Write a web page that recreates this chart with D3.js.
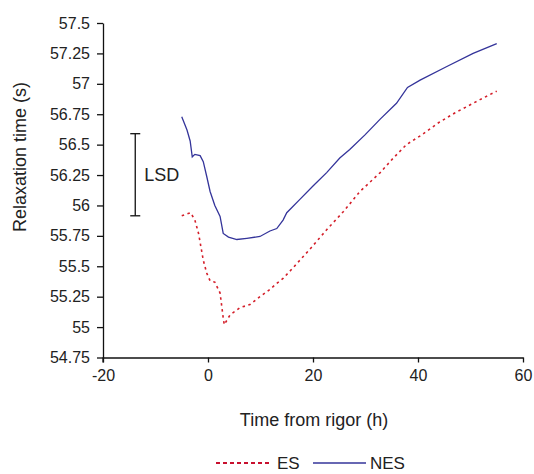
<!DOCTYPE html>
<html><head><meta charset="utf-8">
<script src="https://cdn.jsdelivr.net/npm/d3@7"></script>
<style>
html,body{margin:0;padding:0;background:#fff;}
svg text{font-family:Arial,"Liberation Sans",sans-serif;fill:#222;}
</style></head>
<body>
<svg id="c" width="534" height="474"></svg>
<script>
const esTime = [-5, -3.3, -2.5, -1.8, -0.9, -0.25, 0.4, 1.3, 2.3, 2.9, 3.1, 4.2, 6.1, 8, 9.9, 11.8, 13.1, 14.3, 16.25, 19.4, 22.6, 25.8, 28.95, 32.8, 35.3, 37.8, 40.7, 43.9, 47, 51.8, 55];
const esValues = [55.915, 55.94, 55.88, 55.77, 55.55, 55.445, 55.38, 55.37, 55.28, 55.075, 55.02, 55.1, 55.16, 55.185, 55.25, 55.31, 55.36, 55.40, 55.49, 55.64, 55.80, 55.95, 56.115, 56.27, 56.39, 56.5, 56.58, 56.68, 56.76, 56.87, 56.94];
const nesTime = [-5, -4, -3.4, -3, -2.5, -1.5, -0.9, -0.25, 0.4, 1.3, 2.3, 2.9, 3.9, 5.5, 7.4, 9.9, 11.8, 13.1, 14.3, 15, 17.5, 20, 22.6, 25.1, 27, 29.9, 32.8, 35.9, 38, 40.4, 45.4, 50.5, 55];
const nesValues = [56.73, 56.62, 56.53, 56.40, 56.42, 56.41, 56.36, 56.24, 56.115, 56.0, 55.91, 55.77, 55.74, 55.72, 55.73, 55.745, 55.79, 55.81, 55.88, 55.94, 56.05, 56.16, 56.27, 56.39, 56.46, 56.58, 56.71, 56.84, 56.97, 57.03, 57.14, 57.25, 57.33];
const xTicks = [-20, 0, 20, 40, 60];
const yTicks = [54.75, 55, 55.25, 55.5, 55.75, 56, 56.25, 56.5, 56.75, 57, 57.25, 57.5];
const lsdTop = 56.59, lsdBottom = 55.915, lsdTime = -15;

const svg = d3.select("#c");
const x = d3.scaleLinear().domain([-20, 60]).range([103, 523]);
const y = d3.scaleLinear().domain([54.75, 57.5]).range([357.5, 23]);
const FS = 16;

const gx = svg.append("g").attr("transform", `translate(0,${y(54.75)})`)
  .call(d3.axisBottom(x).tickValues(xTicks).tickFormat(d => String(d)).tickSizeInner(5).tickSizeOuter(0).tickPadding(7));
const gy = svg.append("g").attr("transform", `translate(${x(-20)},0)`)
  .call(d3.axisLeft(y).tickValues(yTicks).tickFormat(d => String(d)).tickSizeInner(6).tickSizeOuter(0).tickPadding(7));
[gx, gy].forEach(g => {
  g.selectAll("path.domain").attr("stroke", "#111").attr("stroke-width", 1.3);
  g.selectAll(".tick line").attr("stroke", "#111").attr("stroke-width", 1.3);
  g.selectAll("text").attr("font-size", FS).attr("font-family", "Arial, 'Liberation Sans', sans-serif").attr("fill", "#222");
});
svg.append("line").attr("x1", x(-20)).attr("x2", x(-20)).attr("y1", y(54.75)).attr("y2", y(54.75) + 5)
  .attr("stroke", "#111").attr("stroke-width", 1.3);

const line = d3.line().x(d => x(d[0])).y(d => y(d[1]));
svg.append("path").datum(esTime.map((t, i) => [t, esValues[i]]))
  .attr("d", line).attr("fill", "none").attr("stroke", "#d41f2a").attr("stroke-width", 1.6).attr("stroke-dasharray", "2.5,3.5");
svg.append("path").datum(nesTime.map((t, i) => [t, nesValues[i]]))
  .attr("d", line).attr("fill", "none").attr("stroke", "#34349a").attr("stroke-width", 1.3);

// LSD bar
const lx = x(lsdTime) + 6;
svg.append("line").attr("x1", lx).attr("x2", lx).attr("y1", y(lsdTop)).attr("y2", y(lsdBottom)).attr("stroke", "#111").attr("stroke-width", 1.3);
[lsdTop, lsdBottom].forEach(v => svg.append("line").attr("x1", lx - 5).attr("x2", lx + 5).attr("y1", y(v)).attr("y2", y(v)).attr("stroke", "#111").attr("stroke-width", 1.3));
svg.append("text").attr("x", lx + 9).attr("y", y((lsdTop + lsdBottom) / 2)).attr("dy", "0.35em").attr("font-size", 18).text("LSD");

// axis titles
svg.append("text").attr("x", 314).attr("y", 426).attr("text-anchor", "middle").attr("font-size", 18).text("Time from rigor (h)");
svg.append("text").attr("transform", `translate(26,157) rotate(-90)`).attr("text-anchor", "middle").attr("font-size", 18).text("Relaxation time (s)");

// legend
const ly = 463;
svg.append("line").attr("x1", 216).attr("x2", 272).attr("y1", ly).attr("y2", ly).attr("stroke", "#c8102e").attr("stroke-width", 2.2).attr("stroke-dasharray", "4,3");
svg.append("text").attr("x", 277).attr("y", ly).attr("dy", "0.35em").attr("font-size", 17).text("ES");
svg.append("line").attr("x1", 313).attr("x2", 366).attr("y1", ly).attr("y2", ly).attr("stroke", "#34349a").attr("stroke-width", 1.6);
svg.append("text").attr("x", 370).attr("y", ly).attr("dy", "0.35em").attr("font-size", 17).text("NES");
</script>
</body></html>
